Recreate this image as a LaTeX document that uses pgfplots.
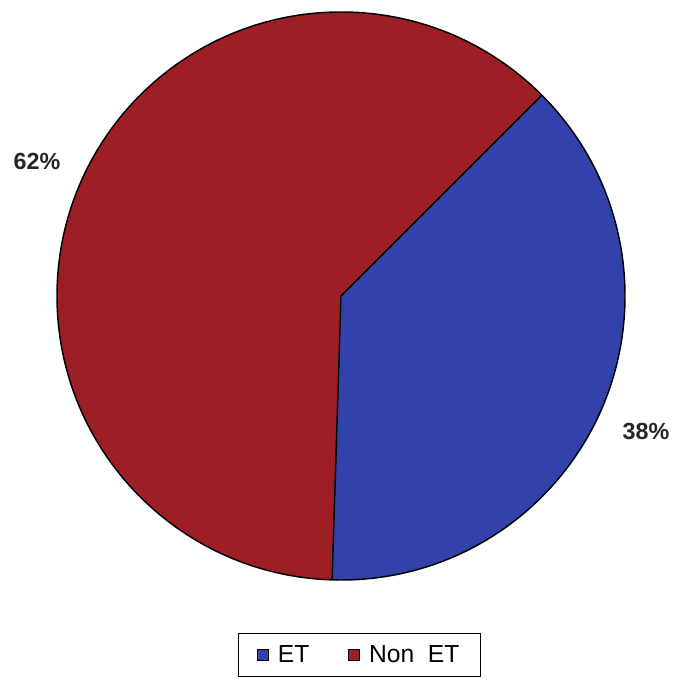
\documentclass[border=0pt]{standalone}
\usepackage{pgfplots}
\pgfplotsset{compat=1.18}
\usepackage{pgfplotstable}
\usepackage{fontspec}
\setmainfont{Liberation Sans}
\definecolor{etblue}{RGB}{50,66,170}
\definecolor{nonred}{RGB}{158,30,38}
\pgfplotstableread{
label value
ET 38
NonET 62
}\piedata
\begin{document}
\begin{tikzpicture}
\pgfplotstablegetelem{0}{value}\of\piedata
\pgfmathsetmacro{\vET}{\pgfplotsretval}
\pgfmathsetmacro{\aStart}{45-3.6*\vET}
\pgfmathsetmacro{\aMid}{45}
\pgfmathsetmacro{\aEnd}{\aStart+360}
\begin{axis}[width=506.25pt,height=510.75pt,scale only axis,
  xmin=0,xmax=675,ymin=0,ymax=681,hide axis,clip=false,
  legend style={at={(axis cs:359.5,26)},anchor=center,draw=black,line width=0.9pt,
    font=\fontsize{18.5}{20}\selectfont,legend columns=2,
    inner xsep=14pt,inner ysep=7pt,
    /tikz/every even column/.append style={column sep=27pt}},
  legend image code/.code={\draw[#1,line width=0.6pt] (0pt,-4.2pt) rectangle (8.4pt,4.2pt); \path (13pt,0pt);},
  ]
\coordinate (bl) at (axis cs:0,0);
\coordinate (tr) at (axis cs:675,681);
\fill[etblue] (axis cs:341,385) -- ++(\aStart:213pt) arc[start angle=\aStart,end angle=\aMid,radius=213pt] -- cycle;
\fill[nonred] (axis cs:341,385) -- ++(\aMid:213pt) arc[start angle=\aMid,end angle=\aEnd,radius=213pt] -- cycle;
\draw[black,line width=1.1pt] (axis cs:341,385) ++(\aStart:213pt) -- (axis cs:341,385) -- ++(\aMid:213pt);
\draw[black,line width=1.1pt] (axis cs:341,385) circle[radius=213pt];
\node[font=\bfseries\fontsize{17.5}{19}\selectfont,text=black!85] at (axis cs:37,520) {62\%};
\node[font=\bfseries\fontsize{17.5}{19}\selectfont,text=black!85] at (axis cs:646,250) {38\%};
\addlegendimage{fill=etblue,draw=black}
\addlegendentry{ET}
\addlegendimage{fill=nonred,draw=black}
\addlegendentry{Non~~ET}
\end{axis}
\pgfresetboundingbox
\useasboundingbox (bl) rectangle (tr);
\end{tikzpicture}
\end{document}
